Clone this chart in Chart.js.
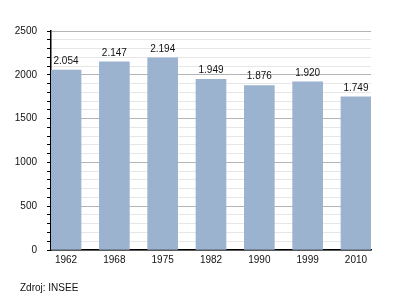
<!DOCTYPE html>
<html>
<head>
<meta charset="utf-8">
<script src="https://cdn.jsdelivr.net/npm/chart.js@4"></script>
<style>
  body { margin: 0; background: #fff; }
  #wrap { position: relative; width: 400px; height: 300px; }
  #src { position: absolute; left: 20px; top: 282px; font: 10px "Liberation Sans", Arial, sans-serif; color: #111; }
</style>
</head>
<body>
<div id="wrap">
  <canvas id="myChart" width="400" height="300"></canvas>
  <div id="src">Zdroj: INSEE</div>
</div>
<script>
let years = ['1962', '1968', '1975', '1982', '1990', '1999', '2010'];
let population = [2054, 2147, 2194, 1949, 1876, 1920, 1749];
let barColor = '#9bb3ce';

// thousands separator with a dot
function fmt(v) {
    return String(v).replace(/\B(?=(\d{3})+(?!\d))/g, '.');
}

let valueLabels = {
    id: 'valueLabels',
    afterDatasetsDraw(chart) {
        let ctx = chart.ctx;
        let meta = chart.getDatasetMeta(0);
        ctx.save();
        ctx.font = '10px "Liberation Sans", Arial, sans-serif';
        ctx.fillStyle = '#111';
        ctx.textAlign = 'center';
        ctx.textBaseline = 'bottom';
        meta.data.forEach((bar, i) => {
            ctx.fillText(fmt(population[i]), bar.x, bar.y - 4);
        });
        ctx.restore();
    }
};

let myChart = document.getElementById('myChart').getContext('2d');

let chart = new Chart(myChart, {
    type: 'bar',
    data: {
        datasets: [{
            data: population.map((v, i) => ({x: i, y: v})),
            backgroundColor: barColor,
            borderWidth: 0,
            barThickness: 30
        }]
    },
    options: {
        responsive: false,
        animation: false,
        layout: { padding: { top: 31, right: 29, left: 0, bottom: 0 } },
        plugins: {
            legend: { display: false },
            tooltip: { enabled: false }
        },
        scales: {
            x: {
                type: 'linear',
                offset: false,
                min: -0.311,
                max: 6.311,
                afterBuildTicks: s => { s.ticks = years.map((y, i) => ({value: i})); },
                afterFit: s => { s.height = 50; },
                grid: { display: false, drawTicks: false, tickLength: 0 },
                border: { color: '#000', width: 1.5 },
                ticks: {
                    callback: (v) => years[v],
                    color: '#111',
                    padding: 4,
                    maxRotation: 0,
                    autoSkip: false,
                    font: { family: '"Liberation Sans", Arial, sans-serif', size: 10 }
                }
            },
            y: {
                min: 0,
                max: 2500,
                afterFit: s => { s.width = 51; },
                border: { color: '#000', width: 1.5 },
                grid: {
                    color: c => (c.tick.value % 500 === 0 ? '#b4b4b4' : '#e6e6e6'),
                    tickColor: '#000',
                    tickLength: 4,
                    lineWidth: 1
                },
                ticks: {
                    stepSize: 100,
                    autoSkip: false,
                    padding: 10,
                    color: '#111',
                    callback: v => (v % 500 === 0 ? v : ''),
                    font: { family: '"Liberation Sans", Arial, sans-serif', size: 10 }
                }
            }
        }
    },
    plugins: [valueLabels]
});
</script>
</body>
</html>
